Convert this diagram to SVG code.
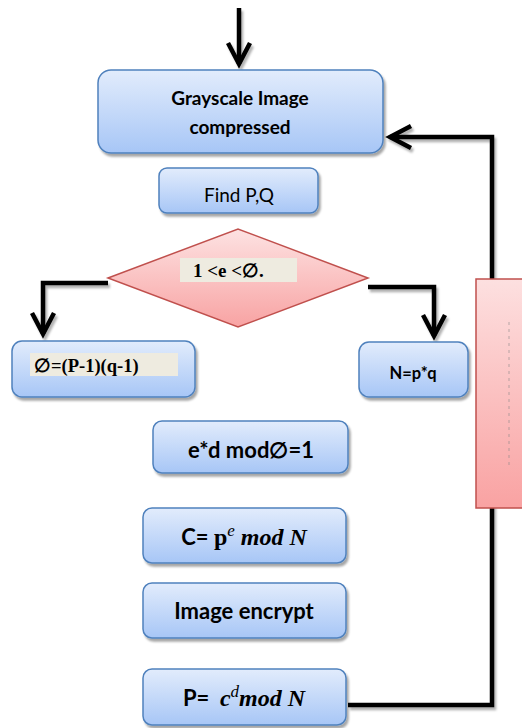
<svg xmlns="http://www.w3.org/2000/svg" width="522" height="728" viewBox="0 0 522 728">
<defs>
<linearGradient id="blue" x1="0" y1="0" x2="0" y2="1">
<stop offset="0" stop-color="#e2ecfc"/>
<stop offset="1" stop-color="#a7c6f6"/>
</linearGradient>
<linearGradient id="pink" x1="0" y1="0" x2="0" y2="1">
<stop offset="0" stop-color="#fde2e2"/>
<stop offset="1" stop-color="#f8a3a3"/>
</linearGradient>
<linearGradient id="pink2" x1="0" y1="0" x2="0" y2="1">
<stop offset="0" stop-color="#fde0e0"/>
<stop offset="1" stop-color="#f9a2a2"/>
</linearGradient>
<filter id="sh" x="-10%" y="-10%" width="130%" height="140%">
<feDropShadow dx="2" dy="3" stdDeviation="1.2" flood-color="#000" flood-opacity="0.35"/>
</filter>
<filter id="csh" filterUnits="userSpaceOnUse" x="0" y="0" width="522" height="728">
<feDropShadow dx="2" dy="3" stdDeviation="1.2" flood-color="#000" flood-opacity="0.3"/>
</filter>
<marker id="chev" markerUnits="userSpaceOnUse" markerWidth="40" markerHeight="40" viewBox="-25 -20 40 40" refX="0" refY="0" orient="auto" overflow="visible">
<path d="M-21,-11 L0,0 L-21,11" fill="none" stroke="#000" stroke-width="4.5"/>
</marker>
</defs>
<style>
.box{fill:url(#blue);stroke:#4f81bd;stroke-width:1.5;filter:url(#sh)}
.conn{fill:none;stroke:#000;stroke-width:4.5}
.t{font-family:Lato,"Open Sans","Liberation Sans",sans-serif;fill:#000;text-anchor:middle}
.b{font-weight:700}
.ser{font-family:"Liberation Serif","DejaVu Serif",serif;font-weight:700;fill:#000}
.m{font-family:"Liberation Serif","DejaVu Serif",serif;font-style:italic}
.lblbg{fill:#eeebe0}
</style>

<g id="connectors" filter="url(#csh)">
<path class="conn" d="M239,8 V64" marker-end="url(#chev)"/>
<path class="conn" d="M348,705 H492 V137 H390" marker-end="url(#chev)"/>
<path class="conn" d="M108,283 H43 V334" marker-end="url(#chev)"/>
<path class="conn" d="M368,287 H434 V336" marker-end="url(#chev)"/>
</g>

<g id="n1">
<rect class="box" x="98" y="70" width="285" height="83" rx="13"/>
<text class="t b" x="240" y="105" font-size="19">Grayscale Image</text>
<text class="t b" x="240" y="134" font-size="19">compressed</text>
</g>

<g id="n2">
<rect class="box" x="159" y="168" width="159" height="45" rx="8"/>
<text class="t" x="239" y="202" font-size="19">Find P,Q</text>
</g>

<g id="n3">
<path d="M108,278 L238,229 L368,278 L238,327 Z" fill="url(#pink)" stroke="#c0504d" stroke-width="1.5"/>
<rect class="lblbg" x="180" y="258" width="117" height="24"/>
<text class="ser" x="193" y="277" font-size="19">1 &lt;e &lt;∅.</text>
</g>

<g id="n4">
<rect class="box" x="12" y="341" width="183" height="56" rx="10"/>
<rect class="lblbg" x="30" y="353" width="148" height="23"/>
<text class="ser" x="34" y="372" font-size="18.5">∅=(P-1)(q-1)</text>
</g>

<g id="n5">
<rect class="box" x="359" y="342" width="109" height="55" rx="10"/>
<text class="t b" x="413" y="379" font-size="16.5">N=p*q</text>
</g>

<g id="n6">
<rect x="476" y="279" width="60" height="229" fill="url(#pink2)" stroke="#c0504d" stroke-width="1.5"/>
<line x1="509" y1="322" x2="509" y2="465" stroke="#888" stroke-width="0.6" stroke-dasharray="3,4"/>
</g>

<g id="n7">
<rect class="box" x="153" y="421" width="195" height="52" rx="9"/>
<text class="t b" x="251" y="458" font-size="22">e*d mod∅=1</text>
</g>

<g id="n8">
<rect class="box" x="143" y="508" width="203" height="55" rx="9"/>
<text x="244" y="545" font-size="24" text-anchor="middle"><tspan font-family="Lato,'Open Sans',sans-serif" font-weight="700" font-size="22">C= </tspan><tspan class="ser">p</tspan><tspan class="m" font-size="17" dy="-9">e</tspan><tspan class="m" font-weight="700" dy="9"> mod N</tspan></text>
</g>

<g id="n9">
<rect class="box" x="143" y="583" width="203" height="55" rx="9"/>
<text class="t b" x="244" y="619" font-size="22">Image encrypt</text>
</g>

<g id="n10">
<rect class="box" x="143" y="669" width="203" height="56" rx="9"/>
<text x="244" y="706" font-size="24" text-anchor="middle"><tspan font-family="Lato,'Open Sans',sans-serif" font-weight="700" font-size="22" xml:space="preserve">P=  </tspan><tspan class="m" font-weight="700">c</tspan><tspan class="m" font-size="17" dy="-9">d</tspan><tspan class="m" font-weight="700" dy="9">mod N</tspan></text>
</g>
</svg>
